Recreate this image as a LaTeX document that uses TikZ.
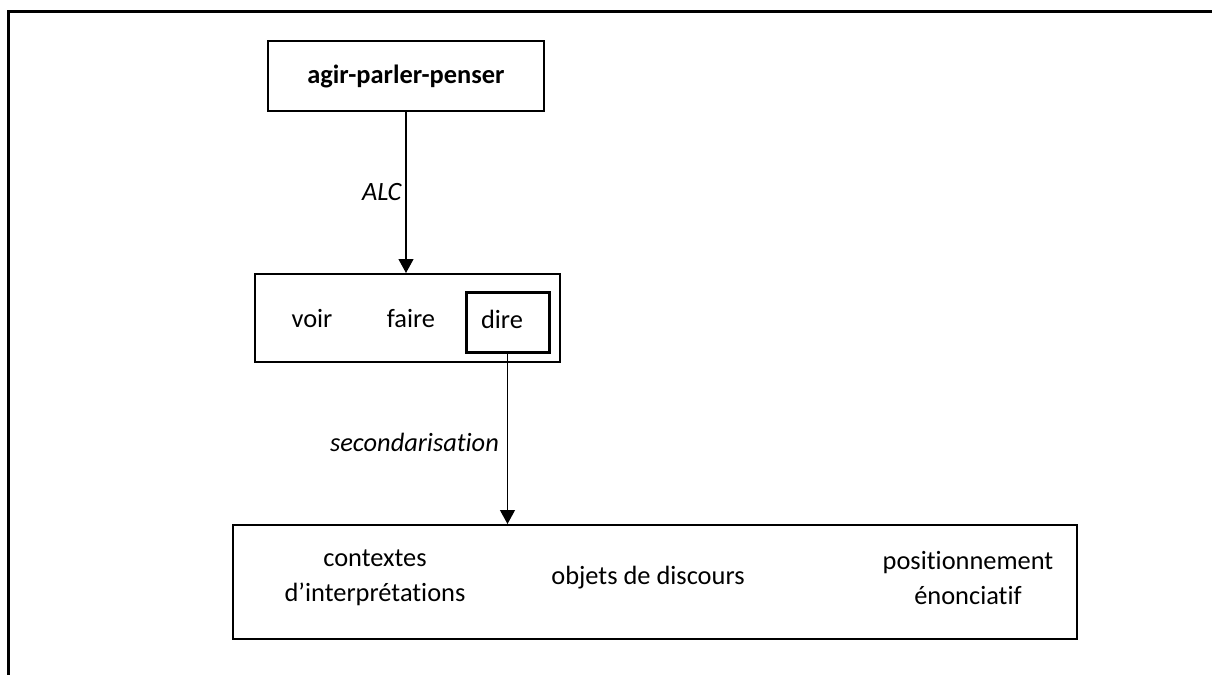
\documentclass[tikz,border=0pt]{standalone}
\usepackage{fontspec}
\setmainfont{Carlito}[Ligatures=NoCommon]
\usetikzlibrary{arrows.meta}
\tikzset{
  box/.style={draw,line width=1pt,inner sep=0pt},
  arr/.style={line width=0.6pt,-{Triangle[width=7.5pt,length=7pt]}},
  lbl/.style={align=center,inner sep=0pt}
}
\begin{document}
\fontsize{13.2}{17.5}\selectfont
\begin{tikzpicture}[x=0.5pt,y=-0.5pt]
\useasboundingbox (0,0) rectangle (1212,675);
\draw[line width=1.5pt] (1212,11) -- (8,11) -- (8,675);
% boxes
\node[box,minimum width=138pt,minimum height=35pt] (top) at (406,76) {\textbf{agir-parler-penser}};
\node[box,minimum width=152.5pt,minimum height=44pt] (mid) at (407.5,318) {};
\node[box,line width=1.5pt,minimum width=41.5pt,minimum height=30pt] (dire) at (507.5,322) {};
\node[box,minimum width=422pt,minimum height=57pt] (bot) at (655,582) {};
% texts
\node[lbl] (voir) at (312,319) {voir};
\node[lbl] (faire) at (411,319) {faire};
\node[lbl] (diretxt) at (502,319) {dire};
\node[lbl] (ctx) at (375,578) {contextes\\d’interprétations};
\node[lbl] (obj) at (648,578) {objets de discours};
\node[lbl] (pos) at (968,578) {positionnement\\énonciatif};
% arrows
\draw[arr] (top.south) -- node[midway,left,inner sep=2pt] {\itshape ALC} (top.south |- mid.north);
\draw[arr] (dire.south) -- node[midway,left,inner sep=4pt,yshift=-2pt] {\itshape secondarisation} (dire.south |- bot.north);
\end{tikzpicture}
\end{document}
